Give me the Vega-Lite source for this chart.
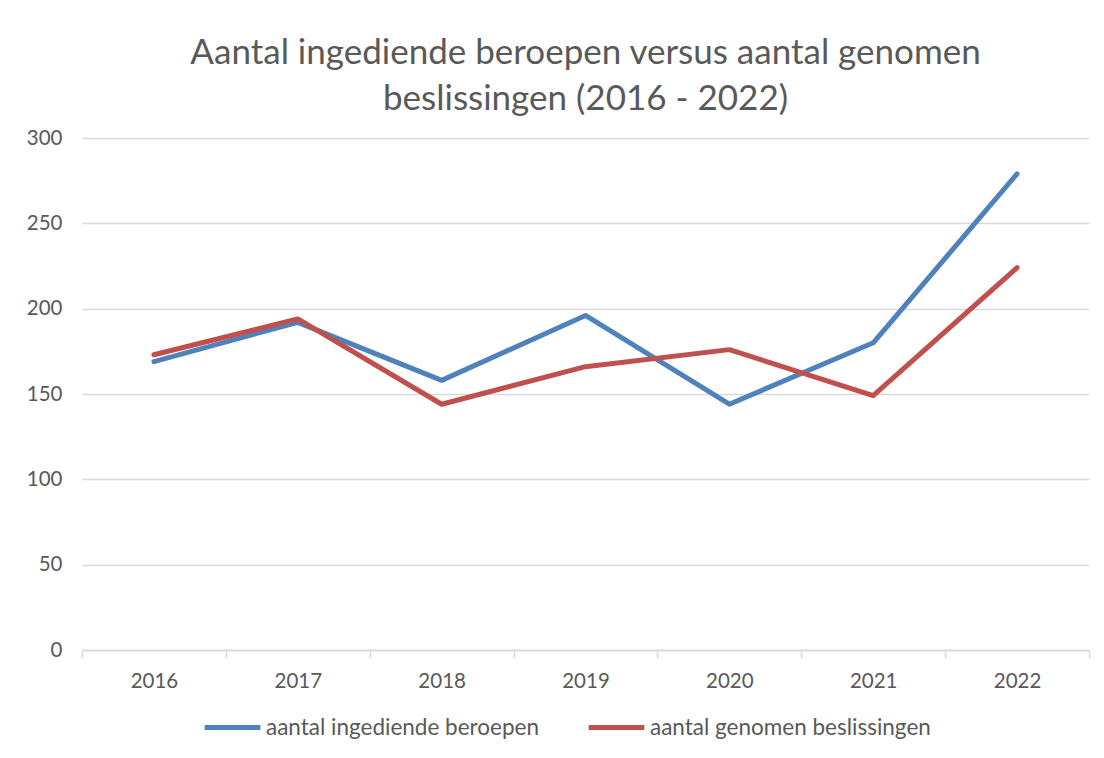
{
  "$schema": "https://vega.github.io/schema/vega-lite/v6.json",
  "width": 1007,
  "height": 512,
  "autosize": {"type": "none"},
  "padding": {"left": 82, "top": 138, "right": 15, "bottom": 108},
  "background": "white",
  "title": {
    "text": ["Aantal ingediende beroepen versus aantal genomen", "beslissingen (2016 - 2022)"],
    "font": "Lato",
    "fontSize": 35,
    "fontWeight": "normal",
    "color": "#595959",
    "anchor": "middle",
    "lineHeight": 46,
    "offset": 11
  },
  "config": {
    "view": {"stroke": null},
    "font": "Lato"
  },
  "data": {
    "values": [
      {"year": "2016", "series": "aantal ingediende beroepen", "value": 169},
      {"year": "2017", "series": "aantal ingediende beroepen", "value": 192},
      {"year": "2018", "series": "aantal ingediende beroepen", "value": 158},
      {"year": "2019", "series": "aantal ingediende beroepen", "value": 196},
      {"year": "2020", "series": "aantal ingediende beroepen", "value": 144},
      {"year": "2021", "series": "aantal ingediende beroepen", "value": 180},
      {"year": "2022", "series": "aantal ingediende beroepen", "value": 279},
      {"year": "2016", "series": "aantal genomen beslissingen", "value": 173},
      {"year": "2017", "series": "aantal genomen beslissingen", "value": 194},
      {"year": "2018", "series": "aantal genomen beslissingen", "value": 144},
      {"year": "2019", "series": "aantal genomen beslissingen", "value": 166},
      {"year": "2020", "series": "aantal genomen beslissingen", "value": 176},
      {"year": "2021", "series": "aantal genomen beslissingen", "value": 149},
      {"year": "2022", "series": "aantal genomen beslissingen", "value": 224}
    ]
  },
  "mark": {"type": "line", "strokeWidth": 5, "strokeCap": "round", "strokeJoin": "round"},
  "encoding": {
    "x": {
      "field": "year",
      "type": "ordinal",
      "bandPosition": 0.5,
      "scale": {"type": "band", "paddingInner": 0, "paddingOuter": 0},
      "axis": {
        "title": null,
        "labelAngle": 0,
        "labelFont": "Lato",
        "labelFontSize": 20.5,
        "labelColor": "#595959",
        "labelPadding": 13,
        "domainColor": "#d9d9d9",
        "domainWidth": 1.5,
        "tickColor": "#d9d9d9",
        "tickWidth": 1.5,
        "tickSize": 8,
        "tickBand": "extent",
        "grid": false
      }
    },
    "y": {
      "field": "value",
      "type": "quantitative",
      "scale": {"domain": [0, 300], "nice": false},
      "axis": {
        "title": null,
        "values": [0, 50, 100, 150, 200, 250, 300],
        "labelFont": "Lato",
        "labelFontSize": 20.5,
        "labelColor": "#595959",
        "labelPadding": 20,
        "ticks": false,
        "domain": false,
        "gridColor": "#d9d9d9",
        "gridWidth": 1.5
      }
    },
    "color": {
      "field": "series",
      "type": "nominal",
      "sort": ["aantal ingediende beroepen", "aantal genomen beslissingen"],
      "scale": {"domain": ["aantal ingediende beroepen", "aantal genomen beslissingen"], "range": ["#4f81bd", "#c0504d"]},
      "legend": {
        "title": null,
        "orient": "none",
        "legendX": 120,
        "legendY": 559,
        "direction": "horizontal",
        "symbolType": "stroke",
        "symbolStrokeWidth": 5,
        "symbolSize": 3100,
        "labelFont": "Lato",
        "labelFontSize": 22.5,
        "labelColor": "#595959",
        "labelOffset": 3,
        "columnPadding": 38,
        "labelLimit": 400
      }
    }
  }
}
